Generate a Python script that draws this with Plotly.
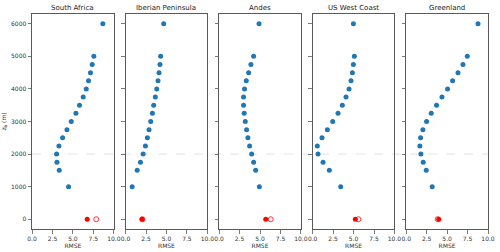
import plotly.graph_objects as go

regions = ["South Africa", "Iberian Peninsula", "Andes", "US West Coast", "Greenland"]
levels = [1000, 1500, 1750, 2000, 2250, 2500, 2750, 3000, 3250, 3500,
          3750, 4000, 4250, 4500, 4750, 5000, 6000]

rmse_levels = {
    "South Africa": [4.47, 3.33, 3.05, 3.01, 3.29, 3.74, 4.27, 4.80, 5.37, 5.81,
                     6.26, 6.63, 6.91, 7.15, 7.36, 7.56, 8.66],
    "Iberian Peninsula": [0.81, 1.42, 1.82, 2.15, 2.43, 2.67, 2.87, 3.08, 3.28, 3.44,
                          3.64, 3.81, 3.97, 4.09, 4.21, 4.29, 4.66],
    "Andes": [4.92, 4.47, 4.22, 3.98, 3.73, 3.52, 3.36, 3.20, 3.07, 2.99,
              2.99, 3.11, 3.32, 3.61, 3.89, 4.22, 4.88],
    "US West Coast": [3.43, 2.04, 1.27, 0.65, 0.57, 1.14, 1.80, 2.45, 3.10, 3.63,
                      4.08, 4.45, 4.69, 4.86, 4.98, 5.10, 4.98],
    "Greenland": [3.18, 2.45, 2.08, 1.80, 1.67, 1.76, 2.04, 2.49, 3.06, 3.71,
                  4.37, 5.06, 5.67, 6.33, 6.94, 7.47, 8.78],
}
surface_filled = [6.75, 2.02, 5.70, 5.22, 3.98]
surface_open = [7.85, 2.05, 6.31, 5.59, 3.85]

x_ticks = [0, 2.5, 5, 7.5, 10]
x_ticklabels = ["0.0", "2.5", "5.0", "7.5", "10.0"]
y_ticks = [0, 1000, 2000, 3000, 4000, 5000, 6000]

W, H = 500, 252
ml, mr, mt, mb = 32, 12, 14, 23
pw = W - ml - mr
panel_w = 81.8
gap = (pw - 5 * panel_w) / 4

fig = go.Figure()
FONT = "DejaVu Sans"
axcol = "#5a5a5a"
txtcol = "#333333"

for i, reg in enumerate(regions):
    ax = "" if i == 0 else str(i + 1)
    x0 = i * (panel_w + gap) / pw
    x1 = (i * (panel_w + gap) + panel_w) / pw
    fig.add_trace(go.Scatter(
        x=rmse_levels[reg], y=levels, mode="markers",
        marker=dict(color="#1f77b4", size=5),
        xaxis="x" + ax, yaxis="y" + ax, showlegend=False))
    fig.add_trace(go.Scatter(
        x=[surface_open[i]], y=[0], mode="markers",
        marker=dict(color="red", size=5, symbol="circle-open", line=dict(width=0.8)),
        xaxis="x" + ax, yaxis="y" + ax, showlegend=False))
    fig.add_trace(go.Scatter(
        x=[surface_filled[i]], y=[0], mode="markers",
        marker=dict(color="red", size=5),
        xaxis="x" + ax, yaxis="y" + ax, showlegend=False))
    common = dict(showline=True, mirror=True, linecolor=axcol, linewidth=1,
                  ticks="outside", ticklen=3.5, tickwidth=0.8, tickcolor=axcol,
                  showgrid=False, zeroline=False, automargin=False,
                  tickfont=dict(family=FONT, size=6, color=txtcol))
    fig.layout["xaxis" + ax] = dict(
        domain=[x0, x1], range=[0, 10], tickvals=x_ticks, ticktext=x_ticklabels,
        anchor="y" + ax,
        title=dict(text="RMSE", font=dict(family=FONT, size=6, color=txtcol), standoff=1),
        **common)
    ydict = dict(range=[-300, 6300], tickvals=y_ticks, anchor="x" + ax,
                 showticklabels=(i == 0), **common)
    if i == 0:
        ydict["title"] = dict(text="z<sub>b</sub> (m)",
                              font=dict(family=FONT, size=6, color=txtcol), standoff=4)
    fig.layout["yaxis" + ax] = ydict
    fig.add_annotation(text=reg, x=(x0 + x1) / 2, y=1, xref="paper", yref="paper",
                       xanchor="center", yanchor="bottom", showarrow=False, yshift=0,
                       font=dict(family=FONT, size=7, color="#222"))

fig.add_shape(type="line", xref="paper", yref="y", x0=0, x1=1, y0=2000, y1=2000,
              line=dict(color="#dcdcdc", width=0.8, dash="dash"), layer="below")

fig.update_layout(width=W, height=H, margin=dict(l=ml, r=mr, t=mt, b=mb),
                  paper_bgcolor="white", plot_bgcolor="white",
                  font=dict(family=FONT), hovermode=False)
fig.write_html("out.html", config={"displayModeBar": False, "staticPlot": True},
               post_script="document.body.style.margin='0';document.body.style.overflow='hidden';")
